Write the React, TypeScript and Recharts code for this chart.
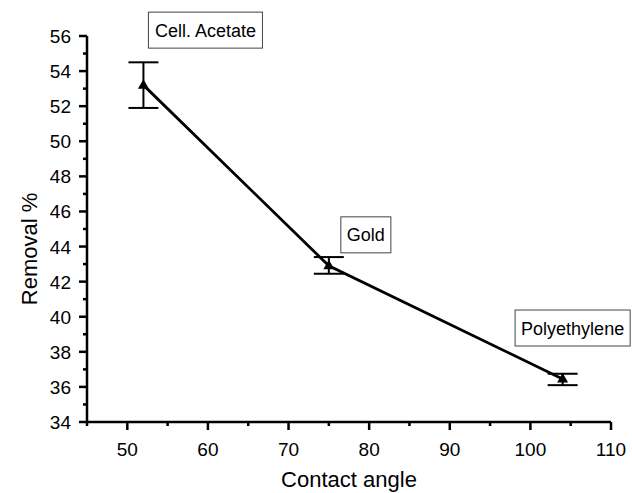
import { LineChart, Line, XAxis, YAxis, ErrorBar, LabelList } from "recharts"

const contactAngle = [52, 75, 104]
const removal = [53.2, 42.9, 36.45]
const removalLow = [51.9, 42.45, 36.1]
const removalHigh = [54.5, 43.4, 36.75]
const surfaces = ["Cell. Acetate", "Gold", "Polyethylene"]

const xTicks = [45, 50, 55, 60, 65, 70, 75, 80, 85, 90, 95, 100, 105, 110]
const yTicks = [34, 35, 36, 37, 38, 39, 40, 41, 42, 43, 44, 45, 46, 47, 48, 49, 50, 51, 52, 53, 54, 55, 56]

const data = contactAngle.map((x, i) => ({
  x,
  removal: removal[i],
  err: [removal[i] - removalLow[i], removalHigh[i] - removal[i]],
  name: surfaces[i],
}))

// where each annotation box sits relative to its point
const boxOffset = [
  { dx: 62, dy: -55 },
  { dx: 37, dy: -31 },
  { dx: 10, dy: -51 },
]

const FONT = "Arial, 'Liberation Sans', sans-serif"

function textWidth(txt: string, size: number) {
  const ctx = document.createElement("canvas").getContext("2d")
  if (!ctx) return txt.length * size * 0.5
  ctx.font = `${size}px Arial, 'Liberation Sans'`
  return ctx.measureText(txt).width
}

const XTick = (props: any) => {
  const { x, y, payload } = props
  const major = payload.value % 10 === 0
  return (
    <g>
      <line x1={x} x2={x} y1={y} y2={y + (major ? 8 : 4)} stroke="#000" strokeWidth={2.5} />
      {major && (
        <text x={x} y={y + 34} textAnchor="middle" fontSize={19} fontFamily={FONT} fill="#000">
          {payload.value}
        </text>
      )}
    </g>
  )
}

const YTick = (props: any) => {
  const { x, y, payload } = props
  const major = payload.value % 2 === 0
  return (
    <g>
      <line x1={x} x2={x - (major ? 8 : 4)} y1={y} y2={y} stroke="#000" strokeWidth={2.5} />
      {major && (
        <text x={x - 16} y={y + 7} textAnchor="end" fontSize={19} fontFamily={FONT} fill="#000">
          {payload.value}
        </text>
      )}
    </g>
  )
}

const Triangle = (props: any) => {
  const { cx, cy } = props
  if (cx == null || cy == null) return null
  return <path d={`M${cx},${cy - 6} L${cx + 5.5},${cy + 3.5} L${cx - 5.5},${cy + 3.5} Z`} fill="#000" />
}

const NameBox = (props: any) => {
  const { x, y, value, index } = props
  const off = boxOffset[index] || { dx: 0, dy: 0 }
  const w = textWidth(String(value), 18) + 12
  const h = 36
  const cx = x + off.dx
  const cy = y + off.dy
  return (
    <g>
      <rect x={cx - w / 2} y={cy - h / 2} width={w} height={h} fill="#fff" stroke="#444" strokeWidth={1} />
      <text x={cx} y={cy + 6.5} textAnchor="middle" fontSize={18} fontFamily={FONT} fill="#000">
        {value}
      </text>
    </g>
  )
}

export default function App() {
  return (
    <div style={{ position: "absolute", left: 0, top: 0, background: "#fff" }}>
      <LineChart width={632} height={493} data={data} margin={{ top: 36, right: 21, left: 0, bottom: 0 }}>
        <XAxis
          dataKey="x"
          type="number"
          domain={[45, 110]}
          ticks={xTicks}
          interval={0}
          tickSize={0}
          tickMargin={0}
          tick={<XTick />}
          height={71}
          axisLine={{ stroke: "#000", strokeWidth: 2.5 }}
          label={{
            content: ({ viewBox }: any) => (
              <text
                x={viewBox.x + viewBox.width / 2}
                y={viewBox.y + 65}
                textAnchor="middle"
                fontSize={22}
                fontFamily={FONT}
                fill="#000"
              >
                Contact angle
              </text>
            ),
          }}
        />
        <YAxis
          type="number"
          domain={[34, 56]}
          ticks={yTicks}
          interval={0}
          tickSize={0}
          tickMargin={0}
          tick={<YTick />}
          width={87}
          axisLine={{ stroke: "#000", strokeWidth: 2.5 }}
          label={{
            content: ({ viewBox }: any) => {
              const cx = viewBox.x + 29
              const cy = viewBox.y + viewBox.height / 2 + 20
              return (
                <text
                  x={cx}
                  y={cy}
                  transform={`rotate(-90 ${cx} ${cy})`}
                  textAnchor="middle"
                  dominantBaseline="central"
                  fontSize={22}
                  fontFamily={FONT}
                  fill="#000"
                >
                  Removal %
                </text>
              )
            },
          }}
        />
        <Line
          dataKey="removal"
          stroke="#000"
          strokeWidth={2.8}
          dot={<Triangle />}
          activeDot={false}
          isAnimationActive={false}
        >
          <ErrorBar dataKey="err" direction="y" width={15} stroke="#000" strokeWidth={2} />
          <LabelList dataKey="name" content={<NameBox />} />
        </Line>
      </LineChart>
    </div>
  )
}
